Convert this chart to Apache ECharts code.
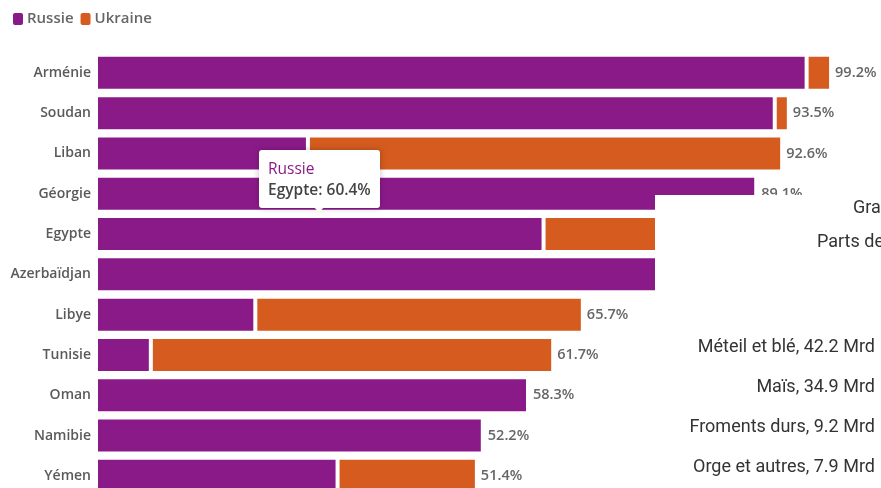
<!DOCTYPE html>
<html><head><meta charset="utf-8">
<script src="https://cdn.jsdelivr.net/npm/echarts@6/dist/echarts.min.js"></script>
<style>html,body{margin:0;padding:0;background:#fff}#c{width:881px;height:488px}</style>
</head><body><div id="c"></div>
<script>
const categories = ['Arménie','Soudan','Liban','Géorgie','Egypte','Azerbaïdjan','Libye','Tunisie','Oman','Namibie','Yémen'];
const russie  = [95.9, 91.6, 28.6, 89.1, 60.4, 84.0, 21.5, 7.4, 58.3, 52.2, 32.6];
const ukraine = [3.3, 1.9, 64.0, 0, 25.7, 0, 44.2, 54.3, 0, 0, 18.8];
const totals  = [99.2, 93.5, 92.6, 89.1, 86.1, 84.0, 65.7, 61.7, 58.3, 52.2, 51.4];
const seriesNames = ['Russie', 'Ukraine'];
const overlayTitle = ['Gra', 'Parts de'];
const overlayItems = ['Méteil et blé, 42.2 Mrd', 'Maïs, 34.9 Mrd', 'Froments durs, 9.2 Mrd', 'Orge et autres, 7.9 Mrd'];

const PURPLE = '#8B1A89', ORANGE = '#D55B1E';
const chart = echarts.init(document.getElementById('c'), null, {renderer: 'canvas'});
const FONT = '"Open Sans", "Noto Sans", sans-serif';

const overlayGraphics = [
  {type: 'rect', shape: {x: 655, y: 195, width: 240, height: 300}, style: {fill: '#fff'}, z: 100, silent: true},
  {type: 'text', x: 853, y: 208, style: {text: overlayTitle[0], font: '18px Roboto', fill: '#333', align: 'left', verticalAlign: 'middle'}, z: 101},
  {type: 'text', x: 817, y: 242, style: {text: overlayTitle[1], font: '18px Roboto', fill: '#333', align: 'left', verticalAlign: 'middle'}, z: 101}
];
const itemY = [347, 387, 427, 467];
overlayItems.forEach((t, i) => overlayGraphics.push(
  {type: 'text', x: 875, y: itemY[i], style: {text: t, font: '18px Roboto', fill: '#333', align: 'right', verticalAlign: 'middle'}, z: 101}
));

chart.setOption({
  animation: false,
  textStyle: {fontFamily: FONT},
  color: [PURPLE, ORANGE],
  legend: {
    left: 11, top: 11, padding: 0, itemWidth: 12, itemHeight: 14, itemGap: 5, icon: 'roundRect',
    symbolKeepAspect: false,
    textStyle: {fontSize: 15, color: '#666', fontFamily: FONT, fontWeight: 600, padding: [0, 0, 0, -2]},
    data: seriesNames
  },
  grid: {left: 96, top: 52.7, width: 741, height: 443.3, containLabel: false, outerBoundsMode: 'none'},
  xAxis: {type: 'value', min: 0, max: 100, show: false},
  yAxis: {
    type: 'category', data: categories, inverse: true,
    axisLine: {show: false}, axisTick: {show: false},
    axisLabel: {fontSize: 14, color: '#5a5a5a', margin: 5, fontFamily: FONT, fontWeight: 600}
  },
  tooltip: {
    trigger: 'item', position: 'top', alwaysShowContent: true, transitionDuration: 0,
    backgroundColor: '#fff', borderWidth: 0, padding: [8, 9],
    extraCssText: 'box-shadow:0 0 6px rgba(0,0,0,0.25);border-radius:3px;',
    formatter: p => '<div style="font-family:' + FONT.replace(/"/g, "'") + ';font-size:15.5px;line-height:21px">' +
      '<div style="color:' + p.color + '">' + p.seriesName + '</div>' +
      '<div style="color:#444;font-weight:600">' + p.name + ': ' + p.value + '%</div></div>'
  },
  series: [
    {name: seriesNames[0], type: 'bar', stack: 't', data: russie, barWidth: 36,
     itemStyle: {borderColor: '#fff', borderWidth: 2}},
    {name: seriesNames[1], type: 'bar', stack: 't', data: ukraine, barWidth: 36,
     itemStyle: {borderColor: '#fff', borderWidth: 2},
     label: {show: true, position: 'right', distance: 4, fontSize: 14.5, color: '#666', fontFamily: FONT, fontWeight: 600,
             formatter: p => totals[p.dataIndex] + '%'}}
  ],
  graphic: overlayGraphics
});
setTimeout(() => chart.dispatchAction({type: 'showTip', seriesIndex: 0, dataIndex: 4}), 30);
</script></body></html>
